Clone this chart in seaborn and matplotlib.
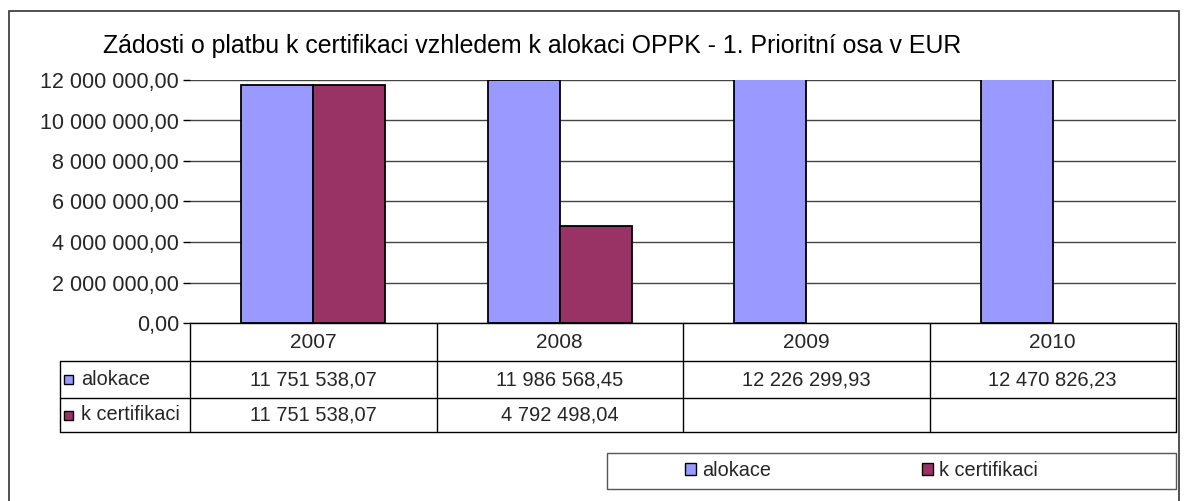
import matplotlib
matplotlib.use("Agg")
import matplotlib.pyplot as plt
import matplotlib.transforms as mtransforms
from matplotlib.lines import Line2D
from matplotlib.patches import Rectangle
import seaborn as sns
import pandas as pd
import numpy as np

roky = ['2007', '2008', '2009', '2010']
alokace = [11751538.07, 11986568.45, 12226299.93, 12470826.23]
k_certifikaci = [11751538.07, 4792498.04, np.nan, np.nan]
serie = ['alokace', 'k certifikaci']
barvy = {'alokace': '#9999FF', 'k certifikaci': '#993366'}
titulek = 'Zádosti o platbu k certifikaci vzhledem k alokaci OPPK - 1. Prioritní osa v EUR'

df = pd.DataFrame({
    'rok': roky * 2,
    'hodnota': alokace + k_certifikaci,
    'rada': ['alokace'] * 4 + ['k certifikaci'] * 4,
})


def fmt(v):
    if pd.isna(v):
        return ''
    s = f'{v:,.2f}'
    return s.replace(',', ' ').replace('.', ',')


sns.set_theme(style='white')
plt.rcParams['font.family'] = ['Liberation Sans', 'DejaVu Sans']

W, H = 1184, 501
fig = plt.figure(figsize=(W / 100, H / 100), dpi=100)


def fx(x):
    return x / W


def fy(y):
    return 1 - y / H


# outer frame
fig.add_artist(Rectangle((fx(9), fy(560)), fx(1179) - fx(9), fy(11) - fy(560),
                         transform=fig.transFigure, fill=False,
                         edgecolor='#333333', linewidth=1.2))

fig.text(fx(103), fy(46), titulek, fontsize=17.9, ha='left', va='center', color='black')

ax = fig.add_axes([fx(190), fy(323), fx(1176) - fx(190), fy(80) - fy(323)])
sns.barplot(data=df, x='rok', y='hodnota', hue='rada', palette=barvy,
            hue_order=serie, order=roky, width=0.585, saturation=1,
            edgecolor='black', linewidth=1.3, legend=False, ax=ax)

ax.set_xlim(-0.5, 3.5)
ax.set_ylim(0, 12e6)
ax.set_yticks(np.arange(0, 12e6 + 1, 2e6))
ax.set_yticklabels([fmt(v) for v in np.arange(0, 12e6 + 1, 2e6)], fontsize=15.5)
ax.yaxis.grid(True, color='#444444', linewidth=1)
ax.set_axisbelow(True)
ax.set_xticks([])
ax.set_xlabel('')
ax.set_ylabel('')
ax.tick_params(axis='y', left=True, length=5, width=1, color='black', pad=3)
for s in ['left', 'right', 'top']:
    ax.spines[s].set_visible(False)
ax.spines['bottom'].set_color('black')
ax.spines['bottom'].set_linewidth(1)

# data table below the axis
tr = mtransforms.blended_transform_factory(ax.transData, fig.transFigure)
y_head, y_r1, y_r2, y_end = fy(323), fy(361), fy(398), fy(432)
x_lab = -0.5 - (190 - 60) / 246.5
kw = dict(color='black', linewidth=1, transform=tr, clip_on=False)
for i in range(5):
    xe = -0.5 + i
    ax.add_line(Line2D([xe, xe], [y_head, y_end], **kw))
for yy in [y_r1, y_r2, y_end]:
    ax.add_line(Line2D([x_lab, 3.5], [yy, yy], **kw))
ax.add_line(Line2D([x_lab, x_lab], [y_r1, y_end], **kw))

for i, r in enumerate(roky):
    ax.text(i, (y_head + y_r1) / 2, r, transform=tr, ha='center', va='center', fontsize=15)
    ax.text(i, (y_r1 + y_r2) / 2, fmt(alokace[i]), transform=tr, ha='center', va='center', fontsize=14.5)
    ax.text(i, (y_r2 + y_end) / 2, fmt(k_certifikaci[i]), transform=tr, ha='center', va='center', fontsize=14.5)

for yc, name in [((y_r1 + y_r2) / 2, 'alokace'), ((y_r2 + y_end) / 2, 'k certifikaci')]:
    fig.add_artist(Rectangle((fx(64), yc - 4.5 / H), 9 / W, 9 / H, transform=fig.transFigure,
                             facecolor=barvy[name], edgecolor='black', linewidth=1))
    fig.text(fx(81), yc, name, ha='left', va='center', fontsize=14.3)

# legend
fig.add_artist(Rectangle((fx(607), fy(489)), fx(1176) - fx(607), fy(453) - fy(489),
                         transform=fig.transFigure, fill=False,
                         edgecolor='#555555', linewidth=1))
handles = [Rectangle((0, 0), 1, 1, facecolor=barvy[n], edgecolor='black', linewidth=1) for n in serie]
fig.legend(handles, serie, ncol=2, loc='center left',
           bbox_to_anchor=(fx(685), fy(471)),
           fontsize=14.3, frameon=False, borderaxespad=0, borderpad=0,
           handlelength=0.55, handleheight=0.55, handletextpad=0.3,
           columnspacing=7.6)

fig.savefig('out.png', dpi=100)
